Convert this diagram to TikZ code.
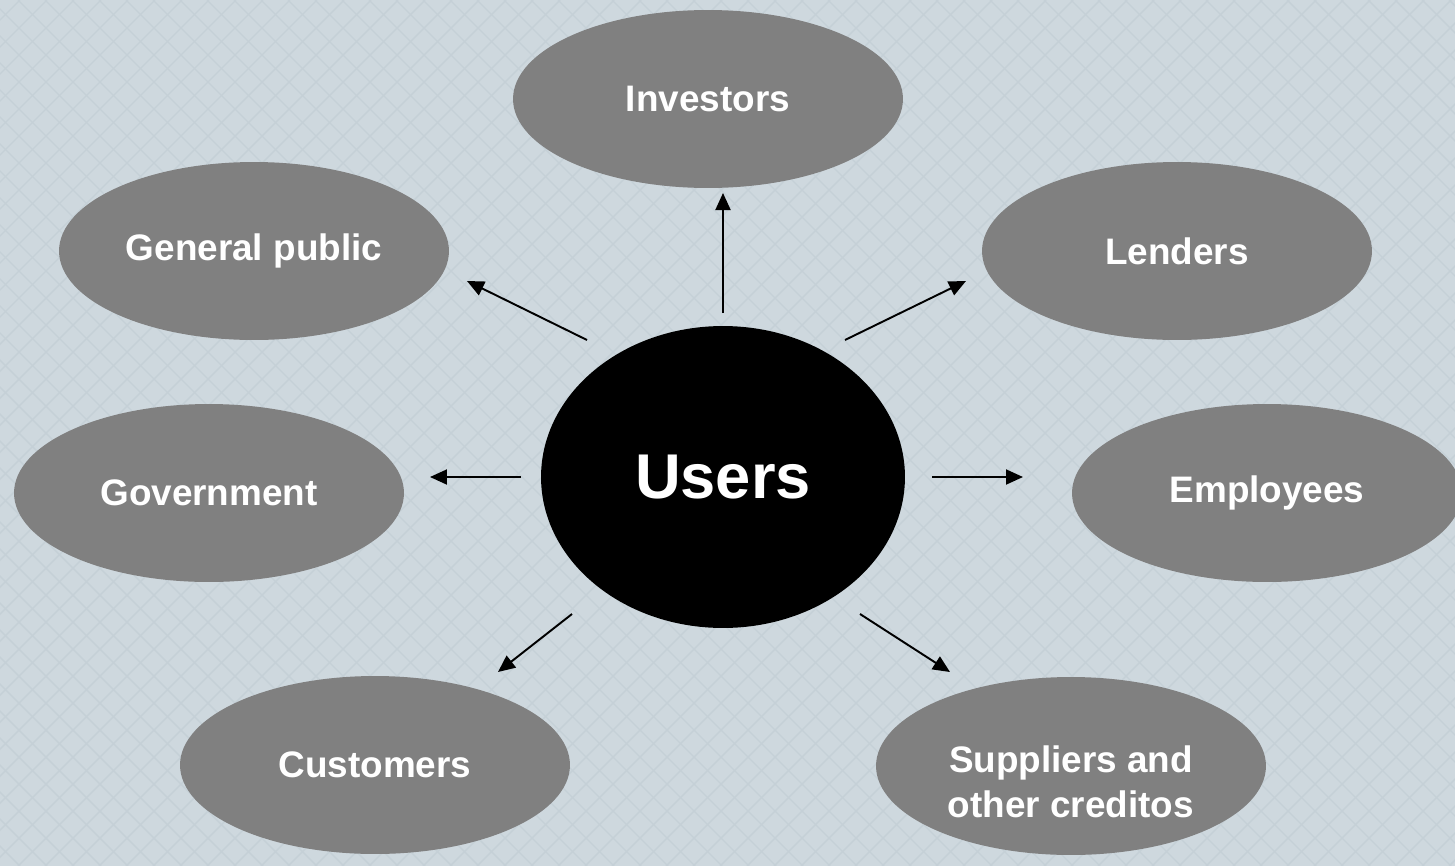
\documentclass[tikz,border=0pt]{standalone}
\usepackage{fontspec}
\setmainfont{Liberation Sans}
\usetikzlibrary{arrows.meta,calc,shapes.geometric}

\definecolor{bgblue}{RGB}{206,216,222}
\definecolor{bghatch}{RGB}{197,208,215}
\definecolor{groupgray}{RGB}{128,128,128}

\begin{document}
\begin{tikzpicture}[x=0.02cm,y=-0.02cm,
    group/.style={ellipse,fill=groupgray,minimum width=7.8cm,minimum height=3.56cm,
      inner sep=0pt,text=white,align=center,font=\fontsize{21}{23}\selectfont\bfseries},
    hub/.style={ellipse,fill=black,minimum width=7.28cm,minimum height=6.04cm,
      inner sep=0pt,text=white,font=\fontsize{36}{40}\selectfont\bfseries},
    arr/.style={-{Triangle[length=0.34cm,width=0.3cm]},line width=1.1pt}]
  % background with a faint diagonal texture
  \path[use as bounding box,fill=bgblue] (0,0) rectangle (1455,866);
  \begin{scope}
    \clip (0,0) rectangle (1455,866);
    \foreach \k in {-900,-873,...,1500} {
      \draw[bghatch,line width=0.8pt] (\k,0) -- ++(866,866);
      \draw[bghatch,line width=0.8pt] (\k,866) -- ++(866,-866);
    }
  \end{scope}

  \node[hub] (users) at (723,477) {Users};
  \node[group] (inv) at (708,99) {Investors};
  \node[group] (genpub) at (254,251) {General public};
  \node[group] (lend) at (1177,251) {Lenders};
  \node[group] (gov) at (209,493) {Government};
  \node[group] (emp) at (1267,493) {Employees};
  \node[group] (cust) at (375,765) {Customers};
  \node[group] (supp) at (1071,766)
    {\rule{0pt}{33pt}Suppliers and\\[0.1cm]other creditos};

  % arrows out of the hub
  \path[arr] ($(users)+(0,-164)$) edge ($(inv)+(15,94)$);
  \path[arr] ($(users)+(-136,-137)$) edge ($(genpub)+(213,30)$);
  \path[arr] ($(users)+(122,-137)$) edge ($(lend)+(-211,30)$);
  \path[arr] ($(users)+(-202,0)$) edge ($(gov)+(221,-16)$);
  \path[arr] ($(users)+(209,0)$) edge ($(emp)+(-244,-16)$);
  \path[arr] ($(users)+(-151,137)$) edge ($(cust)+(123,-93)$);
  \path[arr] ($(users)+(137,137)$) edge ($(supp)+(-121,-94)$);
\end{tikzpicture}
\end{document}
